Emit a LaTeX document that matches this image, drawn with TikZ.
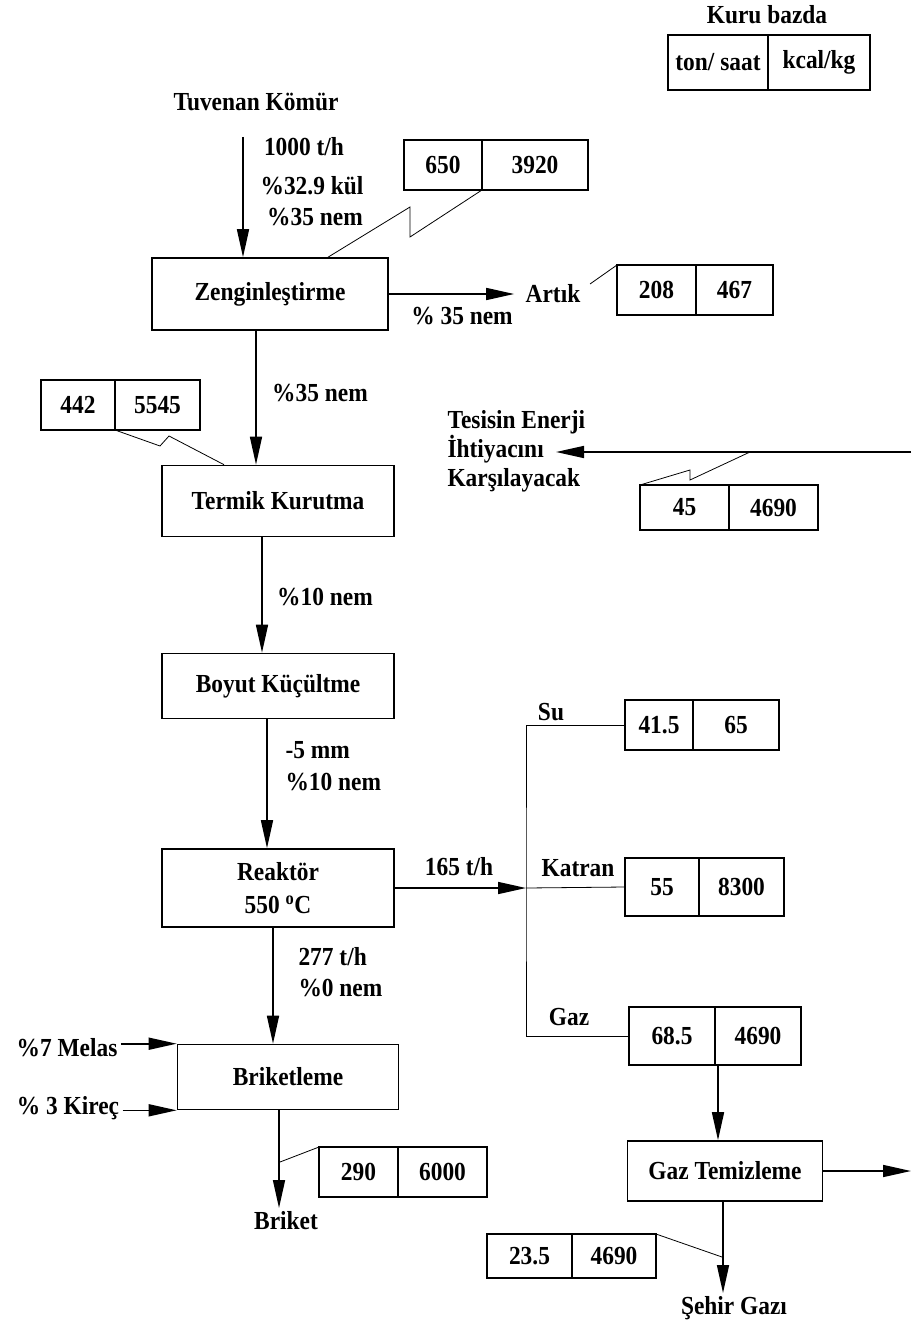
\documentclass[tikz,border=0pt]{standalone}
\usepackage{fontspec}
\setmainfont{Liberation Serif}[FakeStretch=0.9]
\usetikzlibrary{arrows.meta}

\begin{document}
\begin{tikzpicture}[x=1pt,y=-1pt,
    every node/.style={font=\fontsize{26}{29}\selectfont\bfseries},
    proc/.style={draw, line width=1.6pt, inner sep=0pt},
    cell/.style={draw, line width=1.6pt, anchor=north west, outer sep=0pt, inner sep=0pt},
    flow/.style={line width=1.6pt, -{Triangle[length=28pt,width=12pt]}},
    thinline/.style={line width=0.8pt}]
    \useasboundingbox (0,0) rectangle (911,1329);

    % birim kutusu
    \node (kuru) at (767,15) {Kuru bazda};
    \node[cell, minimum width=100, minimum height=55] (birim-a) at (668,35) {ton/ saat};
    \node[cell, minimum width=102, minimum height=55] (birim-b) at (birim-a.north east) {kcal/kg};

    % ana akis
    \node[proc, minimum width=236, minimum height=72] (zeng) at (270,294) {Zenginleştirme};
    \node[proc, minimum width=232, minimum height=71] (termik) at (278,501) {Termik Kurutma};
    \node[proc, minimum width=232, minimum height=65] (boyut) at (278,686) {Boyut Küçültme};
    \node[proc, minimum width=232, minimum height=78, align=center] (reak) at (278,888) {Reaktör\\[4pt]550 \textsuperscript{o}C};
    \node[proc, minimum width=221, minimum height=65] (brik) at (288,1077) {Briketleme};
    \node[proc, minimum width=195, minimum height=60] (gazt) at (725,1171) {Gaz Temizleme};

    % degerler
    \foreach \n/\x/\y/\wa/\wb/\h/\a/\b in {
        b1/404/140/78/106/50/650/3920,
        b2/617/265/79/77/50/208/467,
        b3/41/380/74/85/50/442/5545,
        b4/640/485/89/89/45/45/4690,
        b5/625/700/68/86/50/41.5/65,
        b6/625/858/74/85/58/55/8300,
        b7/629/1007/86/86/58/68.5/4690,
        b8/319/1147/79/89/50/290/6000,
        b9/487/1234/85/84/44/23.5/4690}
    {
        \node[cell, minimum width=\wa, minimum height=\h] (\n-a) at (\x,\y) {\a};
        \node[cell, minimum width=\wb, minimum height=\h] (\n-b) at (\n-a.north east) {\b};
    }

    \node (tuv) at (256,102) {Tuvenan Kömür};
    \coordinate (tuv-out) at (243,137);
    \draw[flow] (tuv-out) -- (tuv-out |- zeng.north);
    \node (l-tph) at (304,147) {1000 t/h};
    \node (l-kul) at (312,186) {\%32.9 kül};
    \node (l-nem1) at (315,217) {\%35 nem};
    \draw[thinline] (b1-a.south east) -- (410,237) -- (410,207) -- ([xshift=58pt]zeng.north);

    \node (artik) at (553,294) {Artık};
    \node (l-nem2) at (462,316) {\% 35 nem};
    \draw[flow, shorten >=8pt] (zeng.east) -- (artik.west);
    \coordinate (k2) at (590,284);
    \draw[thinline] (b2-a.north west) -- (k2);

    \draw[flow] ([xshift=-14pt]zeng.south) -- ([xshift=-14pt]zeng.south |- termik.north);
    \node (l-nem3) at (320,393) {\%35 nem};
    \draw[thinline] (b3-a.south east) -- (160,446) -- (169,436) -- ([xshift=-54pt]termik.north);

    \node[align=left, anchor=west] (tesis) at (444,451) {Tesisin Enerji\\İhtiyacını\\Karşılayacak};
    \coordinate (en-in) at (911,452);
    \coordinate (en-tip) at (556,452);
    \draw[flow] (en-in) -- (en-tip);
    \coordinate (k4) at (750,452);
    \draw[thinline] (b4-a.north west) -- (690,470) -- (690,480) -- (k4);

    \draw[flow] ([xshift=-16pt]termik.south) -- ([xshift=-16pt]termik.south |- boyut.north);
    \node (l-nem4) at (325,597) {\%10 nem};

    \draw[flow] ([xshift=-11pt]boyut.south) -- ([xshift=-11pt]boyut.south |- reak.north);
    \node[anchor=west] (l-mm) at (282,750) {-5 mm};
    \node[anchor=west] (l-nem5) at (282,782) {\%10 nem};

    % yan urunler
    \coordinate (j) at (526,888);
    \draw[flow] (reak.east) -- (j);
    \node (l-165) at (459,867) {165 t/h};
    \draw[thinline] (b5-a.west) -| (j) |- (b7-a.west);
    \draw[thinline] (j) -- (b6-a.west);
    \node (su) at (551,712) {Su};
    \node (katran) at (578,868) {Katran};
    \node (gaz) at (569,1017) {Gaz};

    \draw[flow] ([xshift=3pt]b7-a.south east) -- ([xshift=3pt]b7-a.south east |- gazt.north);
    \coordinate (gazt-out) at (911,1173);
    \draw[flow] (gazt.east) -- (gazt.east -| gazt-out);
    \node[anchor=north] (sehir) at (734,1293) {Şehir Gazı};
    \draw[flow] ([xshift=-2pt]gazt.south) -- ([xshift=-2pt]gazt.south |- sehir.north);
    \draw[thinline] (b9-b.north east) -- (722,1257);

    % briket
    \draw[flow] ([xshift=-5pt]reak.south) -- ([xshift=-5pt]reak.south |- brik.north);
    \node[anchor=west] (l-277) at (295,957) {277 t/h};
    \node[anchor=west] (l-nem6) at (295,988) {\%0 nem};
    \node (melas) at (67,1048) {\%7 Melas};
    \node (kirec) at (68,1108) {\% 3 Kireç};
    \draw[flow] (melas.east |- brik.north west) -- (brik.north west);
    \draw[flow] (kirec.east |- brik.south west) -- (brik.south west);
    \node[anchor=north] (briket) at (286,1208) {Briket};
    \draw[flow] ([xshift=-9pt]brik.south) -- ([xshift=-9pt]brik.south |- briket.north);
    \draw[thinline] (b8-a.north west) -- (280,1162);
\end{tikzpicture}
\end{document}
